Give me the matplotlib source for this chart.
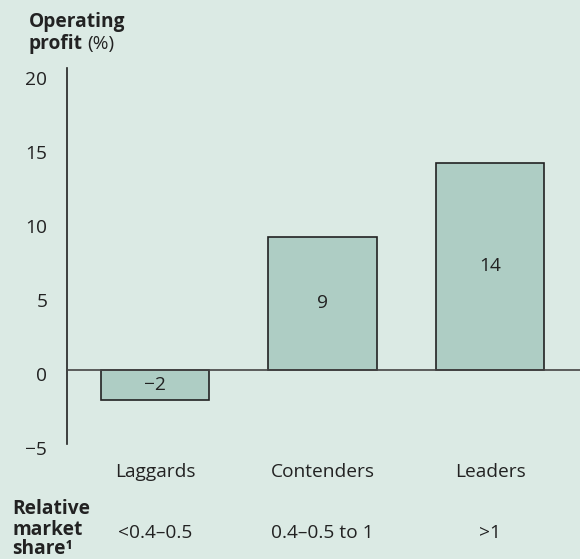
import matplotlib
matplotlib.use("Agg")
import matplotlib.pyplot as plt
from matplotlib.transforms import blended_transform_factory, ScaledTranslation

plt.rcParams['font.family'] = ['Open Sans', 'DejaVu Sans']

# data
groups = ['Laggards', 'Contenders', 'Leaders']
profit = [-2, 9, 14]
market_share = ['<0.4\u20130.5', '0.4\u20130.5 to 1', '>1']
y_ticks = [-5, 0, 5, 10, 15, 20]

bg = '#dbeae4'
bar_color = '#aecdc4'
ink = '#222222'
fs = 13.8

fig = plt.figure(figsize=(5.8, 5.59), dpi=100, facecolor=bg)
ax = fig.add_axes([0.115, 0.2057, 0.885, 0.6727])
ax.set_facecolor(bg)

x = list(range(len(groups)))
ax.bar(x, profit, width=0.645, color=bar_color, edgecolor=ink, linewidth=1.2, zorder=2)
ax.axhline(0, color='#444444', linewidth=1.2, zorder=3)

for xi, v in zip(x, profit):
    label = str(v).replace('-', '\u2212')
    ax.text(xi, v / 2, label, ha='center', va='center', fontsize=fs, color=ink, zorder=4)

ax.set_xlim(-0.527, 2.537)
ax.set_ylim(-5, 20.4)

for side in ['top', 'right', 'bottom']:
    ax.spines[side].set_visible(False)
ax.spines['left'].set_color(ink)
ax.spines['left'].set_linewidth(1.2)

ax.set_yticks(y_ticks)
ax.set_yticklabels([str(t).replace('-', '\u2212') for t in y_ticks])
ax.tick_params(axis='y', length=0, pad=14, labelsize=fs, labelcolor=ink)
shift = ScaledTranslation(0, -3 / 72, fig.dpi_scale_trans)
for lab in ax.get_yticklabels():
    lab.set_transform(lab.get_transform() + shift)
ax.set_xticks([])

# category names and market share row under the bars
trans = blended_transform_factory(ax.transData, ax.transAxes)
for xi, g, s in zip(x, groups, market_share):
    ax.text(xi, -0.087, g, transform=trans, ha='center', va='baseline',
            fontsize=fs, color=ink)
    ax.text(xi, -0.25, s, transform=trans, ha='center', va='baseline',
            fontsize=fs, color=ink)

for line, base in zip(['Relative', 'market', 'share\u00b9'], [514, 535, 554]):
    fig.text(12 / 580, 1 - base / 559, line, ha='left', va='baseline',
             fontsize=fs, fontweight='bold', color=ink)

# axis title, bold with a regular unit
fig.text(29 / 580, 1 - 27 / 559, 'Operating', ha='left', va='baseline',
         fontsize=fs, fontweight='bold', color=ink)
t2 = fig.text(29 / 580, 1 - 48.5 / 559, 'profit', ha='left', va='baseline',
              fontsize=fs, fontweight='bold', color=ink)
ax.annotate('(%)', xy=(1, 0), xycoords=t2, xytext=(3, 0), textcoords='offset points',
            ha='left', va='bottom', fontsize=fs, color=ink, annotation_clip=False)

fig.savefig('out.png', dpi=100, facecolor=bg)
